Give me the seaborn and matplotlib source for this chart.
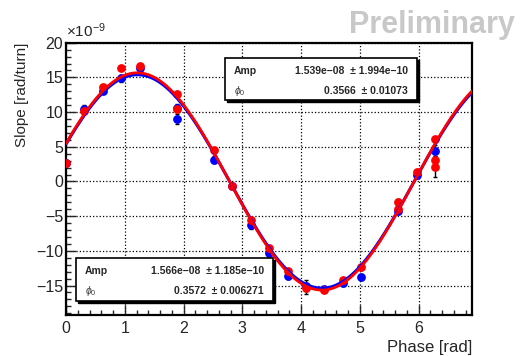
import numpy as np
import pandas as pd
import matplotlib
matplotlib.use("Agg")
import matplotlib.pyplot as plt
from matplotlib.patches import Rectangle
from matplotlib.ticker import MultipleLocator
import seaborn as sns

# slope values are in units of 1e-9 rad/turn
blue_phase = [0.0, 0.314, 0.628, 0.942, 1.257, 1.885, 1.885, 2.513, 2.827, 3.142,
              3.456, 3.770, 4.084, 4.398, 4.712, 5.027, 5.655, 5.969, 6.283]
blue_slope = [2.6, 10.5, 13.1, 14.9, 16.3, 10.6, 9.0, 3.1, -0.6, -6.3,
              -10.3, -13.7, -15.0, -15.5, -14.6, -13.8, -4.3, 1.0, 4.4]
blue_err = [0.3, 0.5, 0.4, 0.5, 0.4, 0.6, 0.7, 0.5, 0.3, 0.6,
            0.4, 0.4, 0.8, 0.3, 0.4, 0.4, 0.4, 0.4, 0.8]

red_phase = [0.0, 0.314, 0.628, 0.942, 1.257, 1.885, 1.885, 2.513, 2.827, 3.142,
             3.456, 3.770, 4.084, 4.398, 4.712, 5.027, 5.655, 5.655, 5.969,
             6.283, 6.283, 6.283]
red_slope = [2.6, 10.1, 13.6, 16.4, 16.6, 12.6, 10.5, 4.5, -0.6, -5.6,
             -9.6, -12.9, -15.4, -15.7, -14.2, -12.4, -2.9, -4.0, 1.3,
             6.1, 3.1, 2.1]
red_err = [0.3, 0.3, 0.3, 0.3, 0.3, 0.3, 0.5, 0.3, 0.3, 0.3,
           0.3, 0.3, 0.8, 0.3, 0.3, 0.3, 0.3, 0.3, 0.3,
           0.3, 0.6, 1.4]

blue_amp, blue_amp_err, blue_phi, blue_phi_err = 1.539e-08, 1.994e-10, 0.3566, 0.01073
red_amp, red_amp_err, red_phi, red_phi_err = 1.566e-08, 1.185e-10, 0.3572, 0.006271

xmax = 6.91
ymin, ymax = -19.25, 20

sns.set_style("white")
plt.rcParams['font.family'] = ['Liberation Sans', 'DejaVu Sans']
plt.rcParams['mathtext.fontset'] = 'custom'
plt.rcParams['mathtext.rm'] = 'Liberation Sans'
plt.rcParams['mathtext.it'] = 'Liberation Sans:italic'
plt.rcParams['mathtext.bf'] = 'Liberation Sans:bold'

W, H = 524, 356
fig = plt.figure(figsize=(W / 100, H / 100), dpi=100)
ax = fig.add_axes([66 / W, 1 - 315 / H, (472 - 66) / W, (315 - 42.7) / H])

xx = np.linspace(0, xmax, 400)
curves = pd.DataFrame({
    "phase": np.concatenate([xx, xx]),
    "slope": np.concatenate([blue_amp * 1e9 * np.sin(xx + blue_phi),
                             red_amp * 1e9 * np.sin(xx + red_phi)]),
    "fit": ["blue"] * len(xx) + ["red"] * len(xx),
})

blue_df = pd.DataFrame({"phase": blue_phase, "slope": blue_slope, "err": blue_err})
red_df = pd.DataFrame({"phase": red_phase, "slope": red_slope, "err": red_err})

# error bars and points
ax.errorbar(blue_df.phase, blue_df.slope, yerr=blue_df.err, fmt="none",
            ecolor="black", elinewidth=1, capsize=1.5, zorder=3)
ax.errorbar(red_df.phase, red_df.slope, yerr=red_df.err, fmt="none",
            ecolor="black", elinewidth=1, capsize=1.5, zorder=3)
sns.scatterplot(data=blue_df, x="phase", y="slope", color="#0000ff", s=40,
                linewidth=0, ax=ax, zorder=4)
sns.scatterplot(data=red_df, x="phase", y="slope", color="#ff0000", s=40,
                linewidth=0, ax=ax, zorder=5)

sns.lineplot(data=curves[curves.fit == "blue"], x="phase", y="slope",
             color="#0000ff", linewidth=2.2, ax=ax, zorder=6)
sns.lineplot(data=curves[curves.fit == "red"], x="phase", y="slope",
             color="#ff0000", linewidth=2.0, ax=ax, zorder=7)

ax.set_xlim(0, xmax)
ax.set_ylim(ymin, ymax)
ax.xaxis.set_major_locator(MultipleLocator(1))
ax.xaxis.set_minor_locator(MultipleLocator(0.2))
ax.yaxis.set_major_locator(MultipleLocator(5))
ax.yaxis.set_minor_locator(MultipleLocator(1))
ax.tick_params(which="both", direction="in", bottom=True, left=True,
               top=False, right=False, labelsize=11.5, width=1)
ax.tick_params(axis="x", pad=4)
ax.tick_params(axis="y", pad=2)
ax.tick_params(which="major", length=7)
ax.tick_params(which="minor", length=3.5)
ax.grid(True, which="major", linestyle=":", color="black", linewidth=0.9)
for sp in ax.spines.values():
    sp.set_linewidth(1.6)
    sp.set_color("black")

ax.set_xlabel("")
ax.set_ylabel("")
fig.text(472 / W, 1 - 352 / H, "Phase [rad]", ha="right", va="baseline", fontsize=12)
fig.text(22 / W, 1 - 43 / H, "Slope [rad/turn]", ha="center", va="top",
         rotation=90, fontsize=11)
fig.text(66 / W, 1 - 37 / H, r"$\times10^{-9}$", ha="left", va="baseline", fontsize=11)
fig.text(515 / W, 1 - 33 / H, "Preliminary", ha="right", va="baseline",
         fontsize=22, fontweight="bold", color="#c8c8c8")


def stat_box(x0, y0, x1, y1, amp, amp_err, phi, phi_err):
    fig.patches.append(Rectangle((x0 / W + 2 / W, 1 - y1 / H - 2 / H), (x1 - x0) / W, (y1 - y0) / H,
                                 transform=fig.transFigure, facecolor="black",
                                 edgecolor="black", zorder=9))
    fig.patches.append(Rectangle((x0 / W, 1 - y1 / H), (x1 - x0) / W, (y1 - y0) / H,
                                 transform=fig.transFigure, facecolor="white",
                                 edgecolor="black", linewidth=1.2, zorder=10))
    r1 = y0 + 13
    r2 = y0 + 33
    fig.text((x0 + 9) / W, 1 - r1 / H, "Amp", fontsize=7.5, fontweight="bold",
             va="center", zorder=11)
    fig.text((x1 - 9) / W, 1 - r1 / H, f"{amp:.3e}".replace("-", "\u2212") + "  \u00b1 "
             + f"{amp_err:.3e}".replace("-", "\u2212"),
             fontsize=7.5, fontweight="bold", va="center", ha="right", zorder=11)
    fig.text((x0 + 9) / W, 1 - r2 / H, r"$\phi_0$", fontsize=7.5, va="center",
             color="#404040", zorder=11)
    fig.text((x1 - 9) / W, 1 - r2 / H, f"{phi:.4g}  \u00b1 {phi_err:.4g}",
             fontsize=7.5, fontweight="bold", va="center", ha="right", zorder=11)


stat_box(225, 58, 417, 100, blue_amp, blue_amp_err, blue_phi, blue_phi_err)
stat_box(76, 258, 273, 301, red_amp, red_amp_err, red_phi, red_phi_err)

fig.savefig("out.png", dpi=100)
